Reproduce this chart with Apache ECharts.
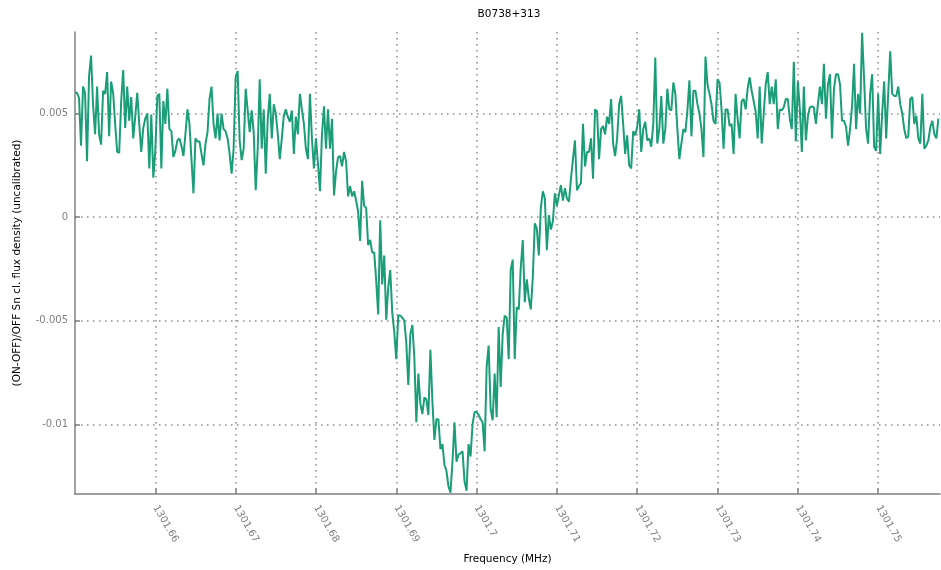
<!DOCTYPE html>
<html>
<head>
<meta charset="utf-8">
<title>B0738+313</title>
<script src="https://cdn.jsdelivr.net/npm/echarts@6/dist/echarts.min.js"></script>
<style>
    html, body {margin: 0; padding: 0; background: #ffffff;}
    #chart {width: 941px; height: 570px;}
</style>
</head>
<body>
<div id="chart"></div>
<script>
// channel grid (MHz)
const freq_start = 1301.65;
const freq_step = 0.00025;

// (ON-OFF)/OFF, in units of 1e-3, one value per channel
const flux_milli = [
    6.0, 6.0, 5.75, 3.45, 6.3, 6.0, 2.7, 6.8, 7.8, 5.4,
    4.0, 6.3, 4.0, 3.5, 6.1, 5.95, 7.0, 3.9, 6.55, 6.0,
    4.5, 3.15, 3.1, 5.6, 7.1, 4.3, 6.3, 4.65, 5.8, 3.8,
    4.85, 6.0, 4.5, 3.15, 4.3, 4.75, 5.0, 2.35, 4.95, 1.9,
    3.2, 5.85, 5.95, 2.35, 5.6, 4.5, 6.2, 4.25, 4.15, 2.9,
    3.2, 3.7, 3.8, 3.45, 2.95, 4.0, 5.2, 4.5, 2.8, 1.15,
    3.8, 3.65, 3.65, 3.05, 2.5, 3.55, 4.1, 5.7, 6.3, 4.5,
    3.8, 5.0, 3.7, 5.0, 4.25, 4.15, 3.8, 3.05, 2.1, 3.3,
    6.75, 7.05, 3.7, 2.75, 3.3, 6.2, 5.15, 4.1, 5.15, 4.1,
    1.3, 3.3, 6.65, 3.3, 5.2, 2.1, 4.75, 5.95, 3.8, 5.45,
    5.0, 4.0, 2.8, 3.8, 4.9, 5.2, 4.85, 4.6, 5.15, 3.05,
    4.85, 4.0, 5.95, 5.2, 4.5, 3.3, 2.8, 5.95, 3.8, 2.35,
    3.8, 2.6, 1.25, 4.0, 5.35, 3.3, 5.2, 3.3, 4.75, 1.05,
    2.2, 2.9, 2.95, 2.45, 3.15, 2.7, 1.0, 1.5, 1.0, 1.25,
    0.8, 0.3, -1.15, 1.75, 0.55, 0.45, -1.35, -1.1, -1.7, -1.7,
    -3.05, -4.7, -0.15, -3.25, -1.85, -4.95, -3.4, -2.55, -4.6, -5.55,
    -6.85, -4.75, -4.75, -4.85, -5.0, -6.05, -8.1, -5.65, -5.2, -6.75,
    -9.9, -7.55, -9.0, -9.5, -8.7, -8.8, -9.55, -6.4, -8.9, -10.75,
    -9.75, -9.75, -11.2, -10.95, -11.95, -12.25, -13.0, -13.3, -11.8, -9.9,
    -11.8, -11.45, -11.4, -11.3, -12.75, -13.2, -10.95, -11.55, -10.0, -9.4,
    -9.4, -9.55, -9.75, -9.9, -11.3, -7.25, -6.2, -9.25, -9.8, -7.55,
    -9.65, -5.3, -8.2, -5.65, -4.75, -4.85, -6.85, -2.55, -2.05, -6.85,
    -4.35, -4.45, -2.45, -1.1, -4.1, -3.0, -3.9, -4.45, -2.9, -0.3,
    -0.55, -1.85, 0.45, 1.25, 0.9, -1.6, 0.1, -0.6, -0.2, 1.15,
    0.55, 1.05, 1.55, 0.8, 1.4, 0.9, 0.75, 1.85, 2.8, 3.7,
    1.3, 1.5, 1.65, 4.5, 2.45, 3.15, 3.15, 3.8, 1.85, 5.2,
    5.1, 2.8, 4.25, 4.4, 4.0, 4.85, 4.5, 5.7, 3.55, 2.95,
    3.8, 5.45, 5.85, 4.5, 3.05, 3.95, 2.5, 2.35, 4.15, 3.95,
    4.35, 5.2, 3.15, 4.25, 4.6, 3.7, 3.8, 3.4, 4.5, 7.7,
    3.55, 4.25, 5.85, 3.55, 4.25, 6.2, 5.2, 5.15, 6.5, 5.95,
    4.25, 2.8, 3.55, 4.25, 4.1, 5.15, 6.6, 3.9, 6.1, 6.1,
    5.45, 5.0, 4.25, 2.9, 7.75, 6.4, 5.95, 5.45, 4.65, 4.5,
    6.65, 6.5, 5.2, 3.3, 5.2, 5.2, 4.4, 4.5, 3.05, 5.95,
    4.75, 3.8, 5.6, 5.7, 5.2, 6.2, 6.75, 6.1, 5.6, 5.1,
    3.8, 6.3, 3.55, 5.0, 6.4, 7.0, 5.45, 6.3, 5.45, 6.65,
    4.25, 5.2, 5.15, 5.3, 5.7, 5.7, 4.75, 4.25, 7.5, 3.65,
    6.55, 5.2, 3.15, 6.3, 3.7, 4.85, 5.3, 5.35, 5.3, 4.5,
    5.45, 6.3, 5.45, 7.4, 4.75, 6.4, 6.9, 3.8, 6.2, 6.9,
    6.9, 6.4, 4.65, 4.65, 4.35, 3.45, 4.25, 5.35, 7.4, 4.25,
    5.95, 5.0, 8.9, 6.65, 4.25, 3.55, 5.95, 6.9, 3.4, 3.2,
    5.95, 3.05, 5.0, 6.55, 3.8, 5.95, 8.0, 5.95, 5.85, 5.85,
    6.3, 5.45, 5.0, 4.25, 3.8, 3.9, 5.7, 5.8, 4.5, 4.9,
    3.8, 3.55, 5.95, 3.3, 3.45, 3.7, 4.35, 4.65, 4.0, 3.8, 4.75
];

const x_ticks = [1301.66, 1301.67, 1301.68, 1301.69, 1301.7, 1301.71, 1301.72, 1301.73, 1301.74, 1301.75];
const y_ticks = [-0.01, -0.005, 0, 0.005];

const X_MIN = 1301.65, X_MAX = 1301.7577;
const Y_MIN = -0.01336, Y_MAX = 0.008935;
const FONT = 'DejaVu Sans';

const line_data = flux_milli.map((v, i) => [+(freq_start + i * freq_step).toFixed(5), v / 1000]);

const chart = echarts.init(document.getElementById('chart'), null, {renderer: 'canvas'});

const grid_line = {show: true, lineStyle: {color: '#8a8a8a', width: 1.5, type: [1.5, 4.5]}};
const axis_line = {show: true, onZero: false, lineStyle: {color: '#808080', width: 1.5}};

chart.setOption({
    animation: false,
    backgroundColor: '#ffffff',
    title: {
        text: 'B0738+313', left: 509, top: 9, padding: 0, textAlign: 'center',
        textStyle: {fontFamily: FONT, fontSize: 10.5, fontWeight: 'normal', color: '#000000'}
    },
    grid: {left: 75, right: 1, top: 32, bottom: 73, containLabel: false},
    xAxis: {
        type: 'value', min: X_MIN, max: X_MAX,
        name: 'Frequency (MHz)', nameLocation: 'middle', nameGap: 60,
        nameTextStyle: {fontFamily: FONT, fontSize: 10.5, color: '#000000'},
        axisLine: axis_line,
        axisTick: {show: true, inside: true, length: 5, customValues: x_ticks, lineStyle: {color: '#808080', width: 1.5}},
        axisLabel: {
            customValues: x_ticks, rotate: -60, margin: 12, color: '#808080',
            fontFamily: FONT, fontSize: 10, formatter: v => String(+v.toFixed(2))
        },
        splitLine: grid_line
    },
    yAxis: {
        type: 'value', min: Y_MIN, max: Y_MAX,
        name: '(ON-OFF)/OFF Sn cl. flux density (uncalibrated)', nameLocation: 'middle', nameGap: 52,
        nameTextStyle: {fontFamily: FONT, fontSize: 10.5, color: '#000000'},
        axisLine: axis_line,
        axisTick: {show: true, inside: true, length: 5, customValues: y_ticks, lineStyle: {color: '#808080', width: 1.5}},
        axisLabel: {
            customValues: y_ticks, margin: 7, color: '#808080',
            fontFamily: FONT, fontSize: 10, formatter: v => String(+v.toFixed(4))
        },
        splitLine: grid_line
    },
    series: [{
        type: 'line', data: line_data, showSymbol: false, clip: true,
        lineStyle: {color: '#1b9e77', width: 2}, itemStyle: {color: '#1b9e77'}
    }]
});
</script>
</body>
</html>
